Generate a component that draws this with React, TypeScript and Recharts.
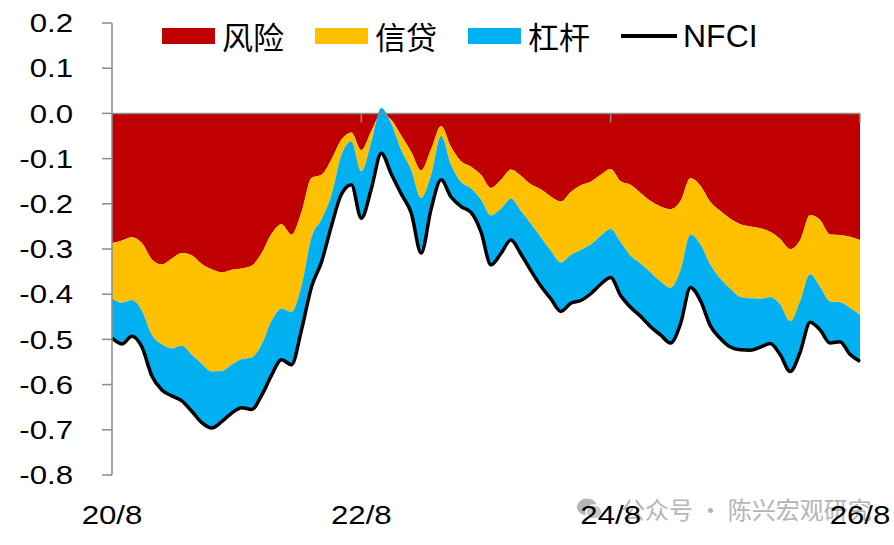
import React from 'react';
import { ComposedChart, Area, Line, XAxis, YAxis, ReferenceLine } from 'recharts';

// lower edge of each band (risk, risk + credit) and the NFCI line
const risk = [
  -0.287, -0.281, -0.274, -0.287, -0.323, -0.334, -0.321, -0.309, -0.314, -0.333,
  -0.345, -0.352, -0.346, -0.343, -0.337, -0.309, -0.266, -0.245, -0.268, -0.218,
  -0.143, -0.136, -0.102, -0.058, -0.042, -0.081, -0.039, 0.0, -0.014, -0.049,
  -0.085, -0.126, -0.079, -0.028, -0.074, -0.106, -0.118, -0.136, -0.165, -0.147,
  -0.124, -0.138, -0.157, -0.168, -0.184, -0.195, -0.174, -0.159, -0.151, -0.136,
  -0.123, -0.15, -0.158, -0.176, -0.194, -0.206, -0.212, -0.194, -0.143, -0.16,
  -0.196, -0.216, -0.233, -0.245, -0.25, -0.254, -0.262, -0.278, -0.3, -0.28,
  -0.225, -0.236, -0.268, -0.269, -0.273, -0.28,
];

const riskPlusCredit = [
  -0.409, -0.419, -0.413, -0.437, -0.49, -0.511, -0.52, -0.514, -0.534, -0.554,
  -0.571, -0.57, -0.556, -0.544, -0.54, -0.512, -0.459, -0.432, -0.439, -0.382,
  -0.275, -0.235, -0.181, -0.092, -0.062, -0.128, -0.063, 0.012, -0.023, -0.081,
  -0.125, -0.187, -0.136, -0.05, -0.114, -0.152, -0.166, -0.191, -0.226, -0.211,
  -0.189, -0.216, -0.244, -0.274, -0.304, -0.33, -0.313, -0.302, -0.29, -0.271,
  -0.256, -0.285, -0.315, -0.332, -0.352, -0.372, -0.386, -0.347, -0.268, -0.29,
  -0.335, -0.366, -0.388, -0.406, -0.409, -0.41, -0.406, -0.423, -0.46, -0.415,
  -0.356, -0.384, -0.416, -0.418, -0.43, -0.446,
];

const nfci = [
  -0.497, -0.51, -0.493, -0.517, -0.581, -0.612, -0.625, -0.636, -0.659, -0.684,
  -0.696, -0.682, -0.663, -0.651, -0.655, -0.624, -0.579, -0.545, -0.556, -0.479,
  -0.384, -0.329, -0.249, -0.179, -0.158, -0.232, -0.167, -0.088, -0.134, -0.178,
  -0.22, -0.309, -0.211, -0.147, -0.185, -0.206, -0.219, -0.262, -0.335, -0.31,
  -0.28, -0.311, -0.348, -0.382, -0.41, -0.438, -0.42, -0.414, -0.399, -0.378,
  -0.363, -0.403, -0.429, -0.449, -0.472, -0.49, -0.508, -0.466, -0.385, -0.414,
  -0.47, -0.498, -0.517, -0.523, -0.524, -0.517, -0.509, -0.534, -0.571, -0.528,
  -0.462, -0.479, -0.508, -0.505, -0.533, -0.549,
];

const xTicks = [0, 25, 50, 75];
const xTickLabels = ['20/8', '22/8', '24/8', '26/8'];
const yTicks = [0.2, 0.1, 0, -0.1, -0.2, -0.3, -0.4, -0.5, -0.6, -0.7, -0.8];

const seriesNames = ['风险', '信贷', '杠杆', 'NFCI'];
const seriesColors = ['#C00000', '#FFC000', '#00B0F0', '#000000'];

const data = nfci.map((v, i) => ({
  i,
  riskBand: [0, risk[i]],
  creditBand: [risk[i], riskPlusCredit[i]],
  leverageBand: [riskPlusCredit[i], v],
  nfci: v,
}));

const AXIS_GREY = '#8c8c8c';
const LATIN = "'Liberation Sans', Arial, sans-serif";
const CJK = "'Noto Sans CJK SC', sans-serif";

function YTick({ x, y, payload }: any) {
  return (
    <g transform={`translate(${x},${y}) scale(1.2,1)`}>
      <text textAnchor="end" dy="0.355em" fontSize={26} fontFamily={LATIN} fill="#000">
        {Number(payload.value).toFixed(1)}
      </text>
    </g>
  );
}

function XTick({ x, y, payload }: any) {
  const label = xTickLabels[xTicks.indexOf(payload.value)];
  return (
    <g transform={`translate(${x},${y + 49}) scale(1.2,1)`}>
      <text textAnchor="middle" fontSize={26} fontFamily={LATIN} fill="#000">
        {label}
      </text>
    </g>
  );
}

function LegendRow() {
  return (
    <div
      style={{
        position: 'absolute',
        left: 162,
        top: 20,
        height: 32,
        display: 'flex',
        alignItems: 'center',
      }}
    >
      {seriesNames.map((name, k) => {
        const isLine = k === 3;
        return (
          <div key={name} style={{ display: 'flex', alignItems: 'center', marginRight: 31 }}>
            {isLine ? (
              <div style={{ width: 56, height: 4, background: seriesColors[k], marginRight: 6 }} />
            ) : (
              <div style={{ width: 53, height: 16, background: seriesColors[k], marginRight: 7 }} />
            )}
            <span
              style={{
                fontFamily: isLine ? LATIN : CJK,
                fontSize: isLine ? 32 : 31,
                lineHeight: '32px',
                color: '#000',
              }}
            >
              {name}
            </span>
          </div>
        );
      })}
    </div>
  );
}

function Watermark() {
  return (
    <div
      style={{
        position: 'absolute',
        left: 577,
        top: 496,
        display: 'flex',
        alignItems: 'center',
        color: '#b5b5b5',
        fontFamily: CJK,
        fontSize: 24,
        lineHeight: '26px',
      }}
    >
      <svg width={26} height={24} style={{ marginRight: 18 }}>
        <ellipse cx={10} cy={10} rx={10} ry={8.5} fill="#b5b5b5" />
        <ellipse cx={17} cy={15} rx={8} ry={7} fill="#c8c8c8" stroke="#fff" strokeWidth={1.5} />
      </svg>
      <span>公众号 · 陈兴宏观研究</span>
    </div>
  );
}

export default function App() {
  return (
    <div style={{ position: 'absolute', left: 0, top: 0, width: 894, height: 545, background: '#fff' }}>
      <Watermark />
      <ComposedChart
        width={894}
        height={545}
        data={data}
        margin={{ top: 23, right: 34, bottom: 0, left: 0 }}
        style={{ fontFamily: LATIN }}
      >
        <XAxis
          type="number"
          dataKey="i"
          domain={[0, 75]}
          ticks={xTicks}
          interval={0}
          axisLine={false}
          tickLine={false}
          tickSize={0}
          tickMargin={0}
          height={70}
          tick={<XTick />}
        />
        <YAxis
          type="number"
          domain={[-0.8, 0.2]}
          ticks={yTicks}
          interval={0}
          width={112}
          axisLine={{ stroke: AXIS_GREY, strokeWidth: 1.5 }}
          tickLine={{ stroke: AXIS_GREY, strokeWidth: 1.5 }}
          tickSize={10}
          tickMargin={29}
          tick={<YTick />}
          allowDataOverflow
        />
        <Area
          type="monotone"
          dataKey="riskBand"
          stroke="none"
          fill={seriesColors[0]}
          fillOpacity={1}
          isAnimationActive={false}
        />
        <Area
          type="monotone"
          dataKey="creditBand"
          stroke="none"
          fill={seriesColors[1]}
          fillOpacity={1}
          isAnimationActive={false}
        />
        <Area
          type="monotone"
          dataKey="leverageBand"
          stroke="none"
          fill={seriesColors[2]}
          fillOpacity={1}
          isAnimationActive={false}
        />
        <ReferenceLine y={0} stroke={AXIS_GREY} strokeWidth={1.5} />
        {xTicks.slice(1).map((t) => (
          <ReferenceLine
            key={t}
            segment={[
              { x: t, y: 0 },
              { x: t, y: -0.02 },
            ]}
            stroke={AXIS_GREY}
            strokeWidth={1.5}
          />
        ))}
        <Line
          type="monotone"
          dataKey="nfci"
          stroke={seriesColors[3]}
          strokeWidth={3.5}
          dot={false}
          activeDot={false}
          isAnimationActive={false}
        />
      </ComposedChart>
      <LegendRow />
    </div>
  );
}
